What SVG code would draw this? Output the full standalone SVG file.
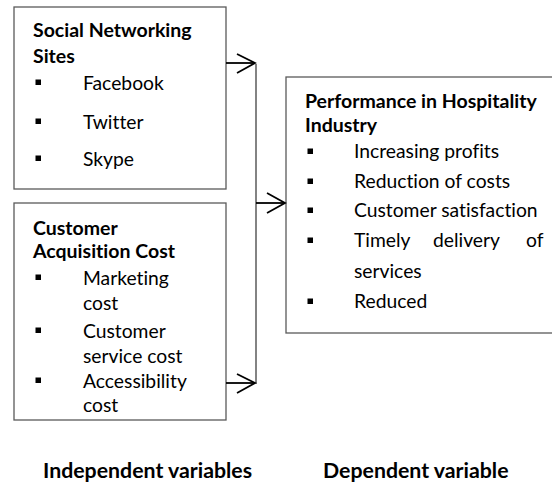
<svg xmlns="http://www.w3.org/2000/svg" width="552" height="487" viewBox="0 0 552 487">
  <style>
    text { font-family: Lato, "Open Sans", sans-serif; font-variant-ligatures: none; fill: #000; }
    .box { fill: #ffffff; stroke: #5a5a5a; stroke-width: 1.3; }
    .title { font-weight: bold; font-size: 19.5px; }
    .item { font-size: 19.3px; }
    .label { font-weight: bold; font-size: 21.3px; }
    .bullet { fill: #000; }
    .wire { fill: none; stroke: #5a5a5a; stroke-width: 1.5; }
    .arrow { fill: none; stroke: #000; stroke-width: 1.8; stroke-linejoin: miter; }
  </style>
  <defs>
    <rect id="sq" class="bullet" x="-2.5" y="-2.5" width="5.5" height="5.5"/>
  </defs>

  <rect x="0" y="0" width="552" height="487" fill="#ffffff"/>

  <!-- Independent variable: social networking sites -->
  <g id="social-networking">
    <rect class="box" x="14" y="7" width="212" height="182"/>
    <text class="title" x="33" y="37">Social Networking</text>
    <text class="title" x="33" y="63">Sites</text>
    <use href="#sq" x="38" y="82"/>
    <text class="item" x="83" y="90">Facebook</text>
    <use href="#sq" x="38" y="121"/>
    <text class="item" x="83" y="129">Twitter</text>
    <use href="#sq" x="38" y="158"/>
    <text class="item" x="83" y="166">Skype</text>
  </g>

  <!-- Independent variable: customer acquisition cost -->
  <g id="acquisition-cost">
    <rect class="box" x="14" y="203" width="212" height="217"/>
    <text class="title" x="33" y="235">Customer</text>
    <text class="title" x="33" y="258">Acquisition Cost</text>
    <use href="#sq" x="38" y="277"/>
    <text class="item" x="83" y="285">Marketing</text>
    <text class="item" x="83" y="310">cost</text>
    <use href="#sq" x="38" y="330"/>
    <text class="item" x="83" y="338">Customer</text>
    <text class="item" x="83" y="363">service cost</text>
    <use href="#sq" x="38" y="380"/>
    <text class="item" x="83" y="388">Accessibility</text>
    <text class="item" x="83" y="412">cost</text>
  </g>

  <!-- Dependent variable: hospitality performance -->
  <g id="performance">
    <rect class="box" x="286" y="77" width="270" height="256"/>
    <text class="title" x="305" y="108">Performance in Hospitality</text>
    <text class="title" x="305" y="132">Industry</text>
    <use href="#sq" x="310" y="151"/>
    <text class="item" x="354" y="158">Increasing profits</text>
    <use href="#sq" x="310" y="181"/>
    <text class="item" x="354" y="188">Reduction of costs</text>
    <use href="#sq" x="310" y="210"/>
    <text class="item" x="354" y="217">Customer satisfaction</text>
    <use href="#sq" x="310" y="240"/>
    <text class="item" y="247"><tspan x="354">Timely</tspan><tspan x="433">delivery</tspan><tspan x="526">of</tspan></text>
    <text class="item" x="354" y="278">services</text>
    <use href="#sq" x="310" y="301"/>
    <text class="item" x="354" y="308">Reduced</text>
  </g>

  <!-- Connectors -->
  <g id="connectors">
    <line class="wire" x1="256" y1="64" x2="256" y2="384"/>
    <line class="arrow" x1="226" y1="63" x2="255" y2="63"/>
    <polyline class="arrow" points="237,54 255,63 237,73"/>
    <line class="arrow" x1="256" y1="203" x2="285" y2="203"/>
    <polyline class="arrow" points="267,193 285,203 267,213"/>
    <line class="arrow" x1="226" y1="383" x2="255" y2="383"/>
    <polyline class="arrow" points="237,374 255,383 237,393"/>
  </g>

  <!-- Column captions -->
  <text class="label" x="43" y="478">Independent variables</text>
  <text class="label" x="323" y="478">Dependent variable</text>
</svg>
